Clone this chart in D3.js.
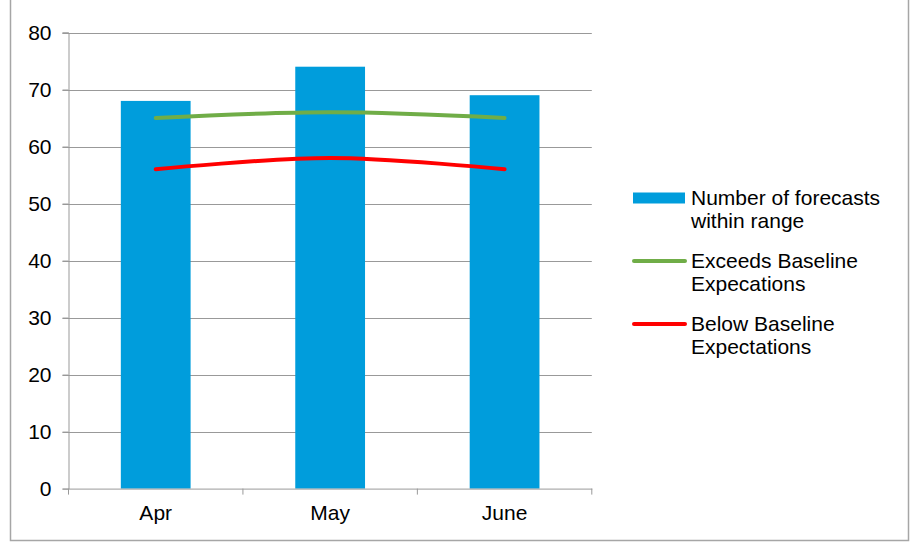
<!DOCTYPE html>
<html>
<head>
<meta charset="utf-8">
<script src="https://cdn.jsdelivr.net/npm/d3@7"></script>
<style>
  html, body { margin: 0; padding: 0; background: #fff; }
  svg { display: block; font-family: "Liberation Sans", Arial, sans-serif; }
</style>
</head>
<body>
<svg id="chart" width="917" height="543"></svg>
<script>
const categories = ["Apr", "May", "June"];
const forecastsWithinRange = [68, 74, 69];
const exceedsBaseline = [65, 66, 65];
const belowBaseline = [56, 58, 56];
const yTicks = [0, 10, 20, 30, 40, 50, 60, 70, 80];
const legendLabels = [
  ["Number of forecasts", "within range"],
  ["Exceeds Baseline", "Expecations"],
  ["Below Baseline", "Expectations"]
];
const colors = { bar: "#009DDC", green: "#70AD47", red: "#FF0000", grid: "#999999", frame: "#A6A6A6" };
const fontSize = 21;

const svg = d3.select("#chart");

// outer frame
svg.append("rect").attr("x", 10.5).attr("y", -5).attr("width", 898).attr("height", 545.5)
  .attr("fill", "none").attr("stroke", colors.frame).attr("stroke-width", 1.5);

const plot = { left: 68.5, right: 591.8, top: 32.5, bottom: 488.6 };

const x = d3.scaleBand().domain(categories).range([plot.left, plot.right]).padding(0);
const y = d3.scaleLinear().domain([0, 80]).range([plot.bottom, plot.top]);

// gridlines
svg.append("g").selectAll("line").data(yTicks.filter(d => d > 0)).join("line")
  .attr("x1", plot.left - 6).attr("x2", plot.right)
  .attr("y1", d => Math.round(y(d)) + 0.5).attr("y2", d => Math.round(y(d)) + 0.5)
  .attr("stroke", colors.grid).attr("stroke-width", 1);

// bars
const barW = x.bandwidth() * 0.4;
svg.append("g").selectAll("rect").data(categories).join("rect")
  .attr("x", d => x(d) + (x.bandwidth() - barW) / 2)
  .attr("width", barW)
  .attr("y", (d, i) => y(forecastsWithinRange[i]))
  .attr("height", (d, i) => y(0) - y(forecastsWithinRange[i]))
  .attr("fill", colors.bar);

// y axis
const yAxis = svg.append("g").attr("transform", `translate(${plot.left},0)`)
  .call(d3.axisLeft(y).tickValues(yTicks).tickSize(6).tickPadding(11));
yAxis.select(".domain").attr("stroke", colors.grid);
yAxis.selectAll(".tick line").attr("stroke", colors.grid);
yAxis.selectAll("text").attr("font-size", fontSize).attr("fill", "#000")
  .attr("font-family", "'Liberation Sans', Arial, sans-serif");

// x axis
const xAxis = svg.append("g").attr("transform", `translate(0,${plot.bottom})`)
  .call(d3.axisBottom(x).tickSize(0).tickPadding(16));
xAxis.select(".domain").attr("stroke", colors.grid);
xAxis.selectAll("text").attr("font-size", fontSize).attr("fill", "#000")
  .attr("font-family", "'Liberation Sans', Arial, sans-serif");
// category boundary ticks
const bounds = categories.map(c => x(c)).concat([plot.right]);
svg.append("g").selectAll("line").data(bounds).join("line")
  .attr("x1", d => d).attr("x2", d => d)
  .attr("y1", plot.bottom).attr("y2", plot.bottom + 6)
  .attr("stroke", colors.grid);

// lines
const cx = d => x(d) + x.bandwidth() / 2;
const line = d3.line().x(d => cx(d.c)).y(d => y(d.v)).curve(d3.curveCatmullRom.alpha(0.5));
[[exceedsBaseline, colors.green], [belowBaseline, colors.red]].forEach(([vals, col]) => {
  svg.append("path")
    .datum(categories.map((c, i) => ({ c, v: vals[i] })))
    .attr("d", line)
    .attr("fill", "none").attr("stroke", col).attr("stroke-width", 4)
    .attr("stroke-linecap", "round");
});

// legend
const lg = svg.append("g");
const legendY = [198, 261, 324];
lg.append("rect").attr("x", 633).attr("y", legendY[0] - 5.5).attr("width", 52).attr("height", 11).attr("fill", colors.bar);
lg.append("line").attr("x1", 634).attr("x2", 685).attr("y1", legendY[1]).attr("y2", legendY[1])
  .attr("stroke", colors.green).attr("stroke-width", 4).attr("stroke-linecap", "round");
lg.append("line").attr("x1", 634).attr("x2", 685).attr("y1", legendY[2]).attr("y2", legendY[2])
  .attr("stroke", colors.red).attr("stroke-width", 4).attr("stroke-linecap", "round");
legendLabels.forEach((lines, i) => {
  const t = lg.append("text").attr("x", 691).attr("y", legendY[i] + 7)
    .attr("font-size", fontSize).attr("fill", "#000");
  lines.forEach((s, j) => t.append("tspan").attr("x", 691).attr("dy", j === 0 ? 0 : 23).text(s));
});
</script>
</body>
</html>
